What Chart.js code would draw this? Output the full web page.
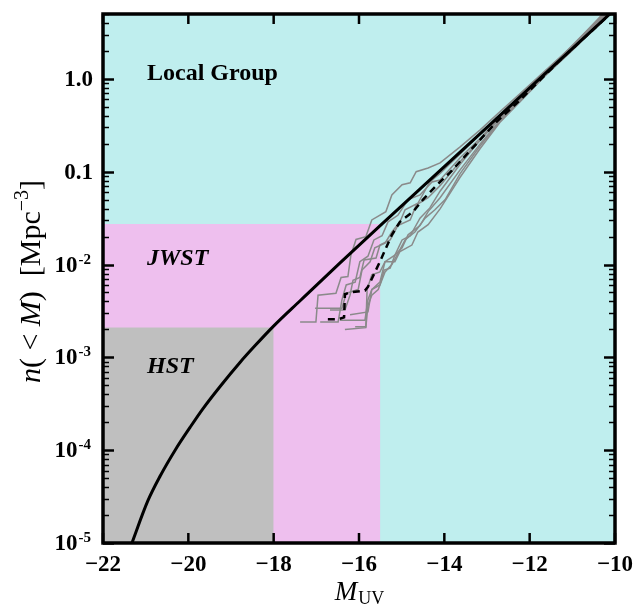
<!DOCTYPE html>
<html lang="en">
<head>
<meta charset="UTF-8">
<title>Cumulative UV luminosity function</title>
<script src="https://cdn.jsdelivr.net/npm/chart.js"></script>
<style>
  body { margin: 0; background: #fff; }
  canvas { display: block; }
</style>
</head>
<body>
<canvas id="lfChart" width="638" height="606"></canvas>
<script>
// axes: M_UV (x) and n(<M) in Mpc^-3 (y, log)
const xTicks = [-22, -20, -18, -16, -14, -12, -10];
const xTickLabels = ['\u221222', '\u221220', '\u221218', '\u221216', '\u221214', '\u221212', '\u221210'];
const yTicks = [1e-5, 1e-4, 1e-3, 1e-2, 0.1, 1];
const yTickLabels = ['10^-5', '10^-4', '10^-3', '10^-2', '0.1', '1.0'];

// survey regions: faint edge in M and top edge in n
const regionNames = ['Local Group', 'JWST', 'HST'];
const regionEdgeM = [-10, -15.5, -18];
const regionTopN = [5, 0.0274, 0.0021];

// smooth model curve
const modelM = [-21.34, -20.95, -20.66, -20.31, -19.96, -19.66, -19.26, -18.79, -18.44, -18.02,
                -17.38, -16.45, -15.51, -14.0, -13.0, -12.0, -11.0, -10.0];
const modelN = [9.5e-6, 2.84e-5, 5.27e-5, 1.0e-4, 1.76e-4, 2.79e-4, 4.83e-4, 8.81e-4, 1.33e-3, 2.13e-3,
                4.07e-3, 0.01035, 0.0261, 0.1135, 0.301, 0.80, 2.12, 5.64];

// mean of the realisations (dashed), log10 n
const meanM = [-16.73, -16.49, -16.35, -16.33, -16.21, -15.86, -15.79, -15.51, -15.23, -15.04,
               -14.73, -14.50, -14.17, -13.87, -13.63, -13.23, -12.77, -12.23, -11.29, -10.02];
const meanLogN = [-2.59, -2.59, -2.57, -2.32, -2.30, -2.28, -2.24, -1.97, -1.68, -1.54,
                  -1.43, -1.30, -1.14, -1.01, -0.89, -0.69, -0.46, -0.23, 0.20, 0.74];

// individual realisations, [M, log10 n]
const realisations = [
  [[-17.38,-2.62],[-17.01,-2.62],[-16.96,-2.33],[-16.54,-2.31],[-16.42,-2.14],[-16.26,-2.13],[-16.19,-1.90],
   [-16.07,-1.73],[-15.84,-1.70],[-15.70,-1.52],[-15.37,-1.43],[-15.23,-1.25],[-14.99,-1.14],[-14.80,-1.12],
   [-14.66,-1.00],[-14.38,-0.96],[-14.10,-0.905],[-13.63,-0.733],[-13.16,-0.549],[-12.70,-0.356],
   [-12.23,-0.162],[-11.64,0.086],[-10.94,0.377],[-10.02,0.83]],
  [[-17.03,-2.47],[-16.40,-2.47],[-16.30,-2.31],[-16.02,-2.27],[-15.93,-2.06],[-15.74,-1.97],[-15.63,-1.82],
   [-15.39,-1.77],[-15.23,-1.65],[-15.04,-1.54],[-14.92,-1.41],[-14.62,-1.34],[-14.34,-1.11],[-14.10,-1.02],
   [-13.63,-0.81],[-13.16,-0.60],[-12.70,-0.39],[-12.23,-0.19],[-11.64,0.065],[-10.94,0.356],[-10.02,0.808]],
  [[-16.45,-2.60],[-15.86,-2.60],[-15.79,-2.38],[-15.70,-2.27],[-15.51,-2.19],[-15.39,-1.97],[-15.16,-1.90],
   [-14.99,-1.735],[-14.80,-1.69],[-14.57,-1.50],[-14.34,-1.39],[-14.10,-1.21],[-13.63,-0.92],[-13.16,-0.66],
   [-12.70,-0.42],[-12.23,-0.22],[-11.64,0.065],[-10.94,0.366],[-10.02,0.797]],
  [[-16.33,-2.70],[-15.84,-2.68],[-15.79,-2.44],[-15.70,-2.33],[-15.55,-2.27],[-15.39,-2.08],[-15.23,-2.00],
   [-15.04,-1.84],[-14.92,-1.735],[-14.69,-1.65],[-14.45,-1.50],[-14.22,-1.41],[-13.98,-1.30],[-13.63,-1.02],
   [-13.16,-0.72],[-12.70,-0.46],[-12.23,-0.24],[-11.64,0.043],[-10.94,0.345],[-10.02,0.776]],
  [[-16.91,-2.62],[-16.49,-2.62],[-16.40,-2.38],[-16.30,-2.22],[-16.09,-2.19],[-15.98,-1.97],[-15.79,-1.91],
   [-15.65,-1.735],[-15.46,-1.69],[-15.32,-1.54],[-15.09,-1.47],[-14.85,-1.30],[-14.57,-1.25],[-14.29,-1.11],
   [-14.10,-1.09],[-13.63,-0.85],[-13.16,-0.64],[-12.70,-0.41],[-12.23,-0.205],[-11.64,0.075],[-10.94,0.377],
   [-10.02,0.808]],
  [[-16.21,-2.54],[-15.79,-2.51],[-15.70,-2.27],[-15.51,-2.22],[-15.41,-2.06],[-15.27,-2.04],[-15.16,-1.90],
   [-14.99,-1.82],[-14.85,-1.68],[-14.57,-1.58],[-14.38,-1.43],[-14.10,-1.28],[-13.63,-0.98],[-13.16,-0.70],
   [-12.70,-0.45],[-12.23,-0.23],[-11.64,0.043],[-10.94,0.356],[-10.02,0.787]],
  [[-16.09,-2.67],[-15.84,-2.67],[-15.81,-2.27],[-15.70,-2.11],[-15.51,-2.08],[-15.39,-1.97],[-15.16,-1.97],
   [-15.04,-1.86],[-14.76,-1.79],[-14.62,-1.65],[-14.38,-1.57],[-14.10,-1.40],[-13.63,-1.06],[-13.16,-0.75],
   [-12.70,-0.47],[-12.23,-0.25],[-11.64,0.032],[-10.94,0.334],[-10.02,0.765]],
  [[-16.68,-2.49],[-16.33,-2.49],[-16.21,-2.33],[-16.14,-2.17],[-15.98,-2.14],[-15.88,-1.95],[-15.60,-1.93],
   [-15.51,-1.79],[-15.27,-1.735],[-15.09,-1.58],[-14.80,-1.52],[-14.66,-1.36],[-14.38,-1.28],[-14.10,-1.15],
   [-13.63,-0.89],[-13.16,-0.66],[-12.70,-0.43],[-12.23,-0.23],[-11.64,0.065],[-10.94,0.388],[-10.02,0.819]]
];

const regionColors = ['#bfeeee', '#eebfee', '#bfbfbf'];
const SERIF = '"Liberation Serif", "Times New Roman", serif';

const datasets = [];

datasets.push({
  data: modelM.map((m, i) => ({x: m, y: modelN[i]})),
  showLine: true, borderColor: '#000', borderWidth: 3,
  pointRadius: 0, cubicInterpolationMode: 'monotone', order: 0
});

datasets.push({
  data: meanM.map((m, i) => ({x: m, y: Math.pow(10, meanLogN[i])})),
  showLine: true, borderColor: '#000', borderWidth: 2.5, borderDash: [7, 5],
  pointRadius: 0, order: 1
});

realisations.forEach(r => {
  datasets.push({
    data: r.map(p => ({x: p[0], y: Math.pow(10, p[1])})),
    showLine: true, borderColor: '#8a8a8a', borderWidth: 1.5,
    pointRadius: 0, order: 2
  });
});

regionNames.forEach((name, i) => {
  datasets.push({
    label: name,
    data: [{x: -22, y: regionTopN[i]}, {x: regionEdgeM[i], y: regionTopN[i]}],
    showLine: true, borderWidth: 0, pointRadius: 0,
    backgroundColor: regionColors[i], fill: 'start',
    order: 10 - i
  });
});

function seg(ctx, x1, y1, x2, y2) {
  ctx.beginPath();
  ctx.moveTo(x1, y1);
  ctx.lineTo(x2, y2);
  ctx.stroke();
}

const axesPlugin = {
  id: 'axesPlugin',
  afterDatasetsDraw(chart) {
    const {ctx, chartArea: a, scales: {x, y}} = chart;
    ctx.save();
    ctx.strokeStyle = '#000';

    // y ticks pointing inwards, major and minor
    for (let e = -5; e <= 0; e++) {
      for (let k = 1; k <= 9; k++) {
        const v = k * Math.pow(10, e);
        if (v > y.max) break;
        const py = Math.round(y.getPixelForValue(v)) + 0.5;
        const len = k === 1 ? 11 : 6;
        ctx.lineWidth = k === 1 ? 2.5 : 1.5;
        seg(ctx, a.left, py, a.left + len, py);
        seg(ctx, a.right, py, a.right - len, py);
      }
    }
    // x ticks
    ctx.lineWidth = 2.5;
    xTicks.forEach(v => {
      const px = x.getPixelForValue(v);
      seg(ctx, px, a.bottom, px, a.bottom - 10);
      seg(ctx, px, a.top, px, a.top + 10);
    });

    ctx.lineWidth = 3.5;
    ctx.strokeRect(a.left, a.top, a.right - a.left, a.bottom - a.top);
    ctx.restore();
  },
  afterDraw(chart) {
    const {ctx, chartArea: a, scales: {x, y}} = chart;
    ctx.save();
    ctx.fillStyle = '#000';

    // x tick labels
    ctx.font = 'bold 23px ' + SERIF;
    ctx.textAlign = 'center';
    ctx.textBaseline = 'alphabetic';
    xTicks.forEach((v, i) => {
      ctx.fillText(xTickLabels[i], x.getPixelForValue(v), a.bottom + 28);
    });

    // y tick labels, powers of ten with a raised exponent
    ctx.textAlign = 'right';
    yTicks.forEach((v, i) => {
      const py = y.getPixelForValue(v);
      const parts = yTickLabels[i].split('^');
      if (parts.length > 1) {
        ctx.font = 'bold 15px ' + SERIF;
        const ew = ctx.measureText(parts[1]).width;
        ctx.fillText(parts[1], a.left - 12, py - 1);
        ctx.font = 'bold 23px ' + SERIF;
        ctx.fillText(parts[0], a.left - 13 - ew, py + 7);
      } else {
        ctx.font = 'bold 23px ' + SERIF;
        ctx.fillText(parts[0], a.left - 10, py + 7);
      }
    });

    // region names
    ctx.textAlign = 'left';
    ctx.font = 'bold 24px ' + SERIF;
    ctx.fillText(regionNames[0], a.left + 44, y.getPixelForValue(0.98));
    ctx.font = 'italic bold 24px ' + SERIF;
    ctx.fillText(regionNames[1], a.left + 44, y.getPixelForValue(0.0099));
    ctx.fillText(regionNames[2], a.left + 44, y.getPixelForValue(6.8e-4));

    // x title: M_UV
    const cx = (a.left + a.right) / 2;
    ctx.font = 'italic 27px ' + SERIF;
    const mw = ctx.measureText('M').width;
    ctx.font = '18px ' + SERIF;
    const sw = ctx.measureText('UV').width;
    const x0 = cx - (mw + sw) / 2;
    ctx.font = 'italic 27px ' + SERIF;
    ctx.fillText('M', x0, 600);
    ctx.font = '18px ' + SERIF;
    ctx.fillText('UV', x0 + mw + 1, 604);

    // y title: n(< M) [Mpc^-3]
    const pieces = [
      {t: 'n', f: 'italic 30px ', dy: 0},
      {t: '(', f: '30px ', dy: 0},
      {t: ' < ', f: '30px ', dy: 0},
      {t: 'M', f: 'italic 30px ', dy: 0},
      {t: ')  [Mpc', f: '30px ', dy: 0},
      {t: '\u22123', f: '20px ', dy: -12},
      {t: ']', f: '30px ', dy: 0}
    ];
    let total = 0;
    pieces.forEach(p => { ctx.font = p.f + SERIF; p.w = ctx.measureText(p.t).width; total += p.w; });
    ctx.translate(40, (a.top + a.bottom) / 2 + 3);
    ctx.rotate(-Math.PI / 2);
    let px = -total / 2;
    pieces.forEach(p => {
      ctx.font = p.f + SERIF;
      ctx.fillText(p.t, px, p.dy);
      px += p.w;
    });
    ctx.restore();
  }
};

new Chart(document.getElementById('lfChart'), {
  type: 'scatter',
  data: {datasets: datasets},
  options: {
    responsive: false,
    animation: false,
    devicePixelRatio: 1,
    layout: {padding: {left: 103, right: 23, top: 14, bottom: 63}},
    plugins: {legend: {display: false}, tooltip: {enabled: false}},
    scales: {
      x: {type: 'linear', min: -22, max: -10, display: false},
      y: {type: 'logarithmic', min: 1e-5, max: 5, display: false}
    }
  },
  plugins: [axesPlugin]
});
</script>
</body>
</html>
